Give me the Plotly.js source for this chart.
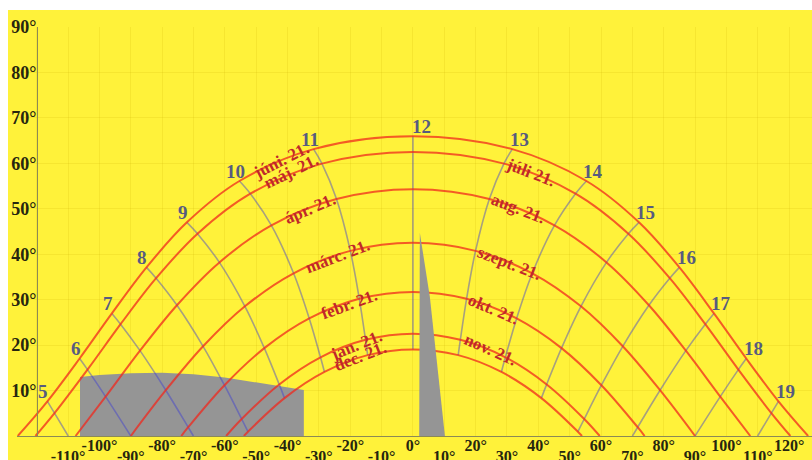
<!DOCTYPE html>
<html><head><meta charset="utf-8">
<script src="https://cdn.plot.ly/plotly-3.0.1.min.js"></script>
<style>html,body{margin:0;padding:0;background:#fff;}
#chart{position:absolute;left:8px;top:10px;width:804px;height:450px;}</style>
</head><body><div id="chart"></div>
<script>
// Sun path curves (azimuth from south, altitude), one per date group
const juneAz = [-126.07,-116.60,-106.33,-96.03,-85.00,-72.10,-55.35,-31.69,0,31.69,55.35,72.10,85.00,96.03,106.33,116.60,126.07];
const juneAlt = [0,7.63,17.05,26.98,37.10,47.02,56.11,63.13,65.94,63.13,56.11,47.02,37.10,26.98,17.05,7.63,0];
const mayAz = [-120.41,-114.33,-103.81,-93.26,-81.93,-68.72,-51.86,-29.03,0,29.03,51.86,68.72,81.93,93.26,103.81,114.33,120.41];
const mayAlt = [0,5.04,14.61,24.61,34.72,44.51,53.32,59.93,62.51,59.93,53.32,44.51,34.72,24.61,14.61,5.04,0];
const aprAz = [-107.62,-98.03,-87.06,-75.28,-61.74,-45.15,-24.38,0,24.38,45.15,61.74,75.28,87.06,98.03,107.62];
const aprAlt = [0,8.67,18.78,28.78,38.20,46.35,52.14,54.30,52.14,46.35,38.20,28.78,18.78,8.67,0];
const marAz = [-90,-78.83,-66.94,-53.60,-38.07,-19.97,0,19.97,38.07,53.60,66.94,78.83,90];
const marAlt = [0,10.07,19.74,28.54,35.81,40.73,42.50,40.73,35.81,28.54,19.74,10.07,0];
const febAz = [-73.9,-71.69,-60.12,-47.40,-33.08,-17.11,0,17.11,33.08,47.40,60.12,71.69,73.9];
const febAlt = [0,1.93,11.17,19.34,25.88,30.19,31.70,30.19,25.88,19.34,11.17,1.93,0];
const janAz = [-59.59,-54.64,-42.66,-29.48,-15.12,0,15.12,29.48,42.66,54.64,59.59];
const janAlt = [0,3.74,11.35,17.32,21.16,22.50,21.16,17.32,11.35,3.74,0];
const decAz = [-53.93,-52.62,-40.97,-28.23,-14.44,0,14.44,28.23,40.97,52.62,53.93];
const decAlt = [0,0.95,8.34,14.09,17.79,19.06,17.79,14.09,8.34,0.95,0];

// Hour lines (from June curve down to December curve / horizon)
const hourNames = ['5','6','7','8','9','10','11','12','13','14','15','16','17','18','19'];
const hourAz = [
  [-116.60,-114.33,-109.97],
  [-106.33,-103.81,-98.03,-90],
  [-96.03,-93.26,-87.06,-78.83,-71.69,-70.03],
  [-85.00,-81.93,-75.28,-66.94,-60.12,-54.64,-52.62],
  [-72.10,-68.72,-61.74,-53.60,-47.40,-42.66,-40.97],
  [-55.35,-51.86,-45.15,-38.07,-33.08,-29.48,-28.23],
  [-31.69,-29.03,-24.38,-19.97,-17.11,-15.12,-14.44],
  [0,0,0,0,0,0,0],
  [31.69,29.03,24.38,19.97,17.11,15.12,14.44],
  [55.35,51.86,45.15,38.07,33.08,29.48,28.23],
  [72.10,68.72,61.74,53.60,47.40,42.66,40.97],
  [85.00,81.93,75.28,66.94,60.12,54.64,52.62],
  [96.03,93.26,87.06,78.83,71.69,70.03],
  [106.33,103.81,98.03,90],
  [116.60,114.33,109.97]
];
const hourAlt = [
  [7.63,5.04,0],
  [17.05,14.61,8.67,0],
  [26.98,24.61,18.78,10.07,1.93,0],
  [37.10,34.72,28.78,19.74,11.17,3.74,0.95],
  [47.02,44.51,38.20,28.54,19.34,11.35,8.34],
  [56.11,53.32,46.35,35.81,25.88,17.32,14.09],
  [63.13,59.93,52.14,40.73,30.19,21.16,17.79],
  [65.94,62.51,54.30,42.50,31.70,22.50,19.06],
  [63.13,59.93,52.14,40.73,30.19,21.16,17.79],
  [56.11,53.32,46.35,35.81,25.88,17.32,14.09],
  [47.02,44.51,38.20,28.54,19.34,11.35,8.34],
  [37.10,34.72,28.78,19.74,11.17,3.74,0.95],
  [26.98,24.61,18.78,10.07,1.93,0],
  [17.05,14.61,8.67,0],
  [7.63,5.04,0]
];

// Obstacles (horizon profile)
const buildingAz = [-106.2,-106.2,-100,-90,-80,-70,-60,-50,-40,-34.8,-34.8];
const buildingAlt = [0,13.0,13.4,13.8,13.9,13.6,12.9,11.8,10.6,10.1,0];
const spikeAz = [2.0,2.2,5.4,8.6,10.2];
const spikeAlt = [0,44.7,30.6,10.1,0];

// Date labels
const dateLabels = ['júni. 21.','máj. 21.','ápr. 21.','márc. 21.','febr. 21.','jan. 21.','dec. 21.','júli 21.','aug. 21.','szept. 21.','okt. 21.','nov. 21.'];
const dateLabelAz = [-42.1,-38.9,-32.7,-24.2,-20.4,-18.3,-16.9,37.6,33.5,30.9,25.8,24.6];
const dateLabelAlt = [60.7,58.3,50.1,39.6,29.0,20.0,17.6,57.9,50.0,37.9,27.9,19.1];
const dateLabelAngle = [-27,-26,-23,-21,-20,-22,-21,21,21,21,23,24];

// Axis ticks
const xTickEvenVals = [-100,-80,-60,-40,-20,0,20,40,60,80,100,120];
const xTickEvenText = ['-100°','-80°','-60°','-40°','-20°','0°','20°','40°','60°','80°','100°','120°'];
const xTickOddVals = [-110,-90,-70,-50,-30,-10,10,30,50,70,90,110];
const xTickOddText = ['-110°','-90°','-70°','-50°','-30°','-10°','10°','30°','50°','70°','90°','110°'];
const yTickVals = [10,20,30,40,50,60,70,80,90];
const yTickText = ['10°','20°','30°','40°','50°','60°','70°','80°','90°'];
const gridVals = [-120,-110,-100,-90,-80,-70,-60,-50,-40,-30,-20,-10,0,10,20,30,40,50,60,70,80,90,100,110,120];

const SERIF = 'Liberation Serif, Times New Roman, serif';
const dateColor = 'rgba(240,40,30,0.75)';
const hourColor = 'rgba(60,60,210,0.45)';

const traces = [];
traces.push({x: buildingAz, y: buildingAlt, mode:'lines', fill:'toself', fillcolor:'#959595', line:{width:0, color:'#959595'}, hoverinfo:'skip'});
traces.push({x: spikeAz, y: spikeAlt, xaxis:'x2', mode:'lines', fill:'toself', fillcolor:'#959595', line:{width:0, color:'#959595'}, hoverinfo:'skip'});
for (let i = 0; i < hourNames.length; i++) {
  traces.push({x: hourAz[i], y: hourAlt[i], mode:'lines', line:{color: hourColor, width:1.6, shape: hourNames[i]==='12' ? 'linear' : 'spline'}, hoverinfo:'skip'});
}
const curves = [[juneAz,juneAlt],[mayAz,mayAlt],[aprAz,aprAlt],[marAz,marAlt],[febAz,febAlt],[janAz,janAlt],[decAz,decAlt]];
curves.forEach(c => traces.push({x:c[0], y:c[1], mode:'lines', line:{color:dateColor, width:2, shape:'spline'}, hoverinfo:'skip'}));

const gridText = gridVals.map(v => { const k = xTickEvenVals.indexOf(v); return k >= 0 ? xTickEvenText[k] : ''; });

const annotations = [];
hourNames.forEach((h, i) => {
  const num = parseInt(h, 10);
  annotations.push({x: hourAz[i][0], y: hourAlt[i][0], text: h, showarrow:false,
    xanchor:'center', yanchor:'middle', xshift: num < 12 ? -4 : (num === 12 ? 9 : 7), yshift: 10,
    font:{family:SERIF, size:19, color:'#575b80', weight:'bold'}});
});
dateLabels.forEach((t, i) => {
  annotations.push({x: dateLabelAz[i], y: dateLabelAlt[i], text: t, showarrow:false,
    xanchor:'center', yanchor:'middle', textangle: dateLabelAngle[i],
    font:{family:SERIF, size:17, color:'#c0282a', weight:'bold'}});
});

const tickFontX = {family:SERIF, size:16, color:'#26260f', weight:'bold'};
const layout = {
  width: 804, height: 450,
  margin: {l:9, r:0, t:17, b:24, pad:0},
  paper_bgcolor: '#fff23a', plot_bgcolor: '#fff23a',
  showlegend: false,
  xaxis: {range:[-126.3,127.3], tickmode:'array', tickvals: gridVals, ticktext: gridText,
    showgrid:true, gridcolor:'rgba(200,170,0,0.16)', gridwidth:1, zeroline:false,
    showline:true, linecolor:'#8c8a55', linewidth:1, ticks:'', tickfont: tickFontX, ticklabelstandoff: -5, fixedrange:true},
  xaxis2: {range:[-126.3,127.3], overlaying:'x', anchor:'y', side:'bottom', tickmode:'array',
    tickvals: xTickOddVals, ticktext: xTickOddText, showgrid:false, zeroline:false, showline:false,
    ticks:'', tickfont: tickFontX, ticklabelstandoff: 9, fixedrange:true},
  yaxis: {range:[0,90], anchor:'free', position: 0.02516, tickmode:'array', tickvals: yTickVals, ticktext: yTickText,
    showgrid:true, gridcolor:'rgba(200,170,0,0.16)', gridwidth:1, zeroline:false,
    showline:true, linecolor:'#8c8a55', linewidth:1, ticks:'', ticklabelstandoff: -3,
    tickfont:{family:SERIF, size:18, color:'#26260f', weight:'bold'}, fixedrange:true},
  annotations: annotations
};
Plotly.newPlot('chart', traces, layout, {displayModeBar:false, staticPlot:true});
</script></body></html>
